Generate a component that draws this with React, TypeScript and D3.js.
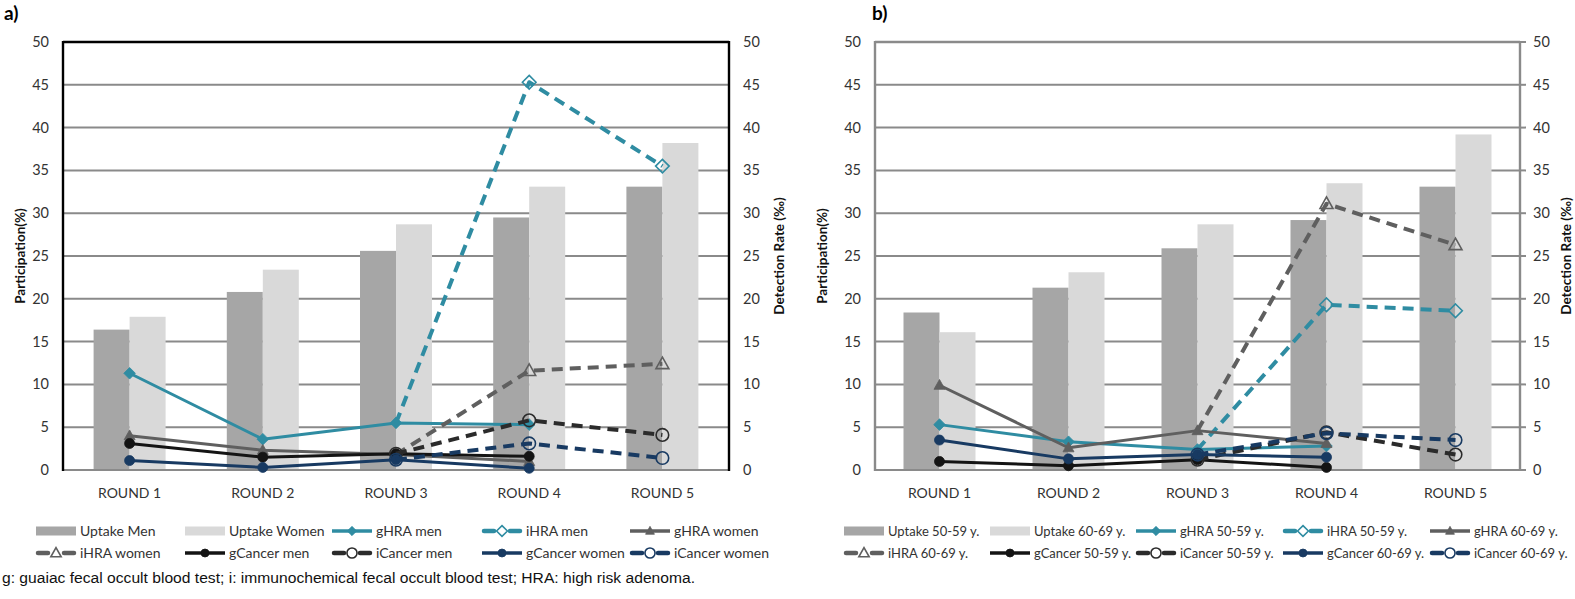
import React from 'react';
import * as d3 from 'd3';

const rounds = ['ROUND 1', 'ROUND 2', 'ROUND 3', 'ROUND 4', 'ROUND 5'];
const yTicks = [0, 5, 10, 15, 20, 25, 30, 35, 40, 45, 50];

// Panel a) – by sex
const uptakeMen = [16.4, 20.8, 25.6, 29.5, 33.1];
const uptakeWomen = [17.9, 23.4, 28.7, 33.1, 38.2];
const gHRAMen = [11.3, 3.6, 5.5, 5.3, null];
const iHRAMen = [null, null, 5.5, 45.3, 35.5];
const gHRAWomen = [4.0, 2.3, 1.8, 1.0, null];
const iHRAWomen = [null, null, 1.8, 11.6, 12.4];
const gCancerMen = [3.1, 1.5, 1.9, 1.6, null];
const iCancerMen = [null, null, 1.9, 5.8, 4.1];
const gCancerWomen = [1.1, 0.3, 1.2, 0.2, null];
const iCancerWomen = [null, null, 1.2, 3.1, 1.4];

// Panel b) – by age
const uptake5059 = [18.4, 21.3, 25.9, 29.2, 33.1];
const uptake6069 = [16.1, 23.1, 28.7, 33.5, 39.2];
const gHRA5059 = [5.3, 3.3, 2.4, 2.8, null];
const iHRA5059 = [null, null, 2.4, 19.3, 18.6];
const gHRA6069 = [9.9, 2.6, 4.6, 3.1, null];
const iHRA6069 = [null, null, 4.6, 31.1, 26.3];
const gCancer5059 = [1.0, 0.5, 1.2, 0.3, null];
const iCancer5059 = [null, null, 1.2, 4.4, 1.8];
const gCancer6069 = [3.5, 1.3, 1.8, 1.5, null];
const iCancer6069 = [null, null, 1.8, 4.3, 3.5];

const footnote =
  'g: guaiac fecal occult blood test; i: immunochemical fecal occult blood test; HRA: high risk adenoma.';

const C = {
  teal: '#2f8ca2',
  gray: '#5f5f5f',
  black: '#141414',
  dark: '#2b2b2b',
  navy: '#183a62',
  barDark: '#a6a6a6',
  barLight: '#d9d9d9',
  grid: '#8a8a8a',
};

type MarkerType = 'diamond' | 'triangle' | 'circle';
type Series = {
  label: string;
  values: (number | null)[];
  color: string;
  dashed: boolean;
  marker: MarkerType;
  filled: boolean;
};

const FONT = 'Lato, Calibri, "Open Sans", sans-serif';

function Marker({ type, x, y, filled, color, legend }: { type: MarkerType; x: number; y: number; filled: boolean; color: string; legend?: boolean }) {
  const r = filled ? (type === 'circle' ? 5 : 5.8) : type === 'circle' ? 6.3 : 6.8;
  const fill = filled ? color : legend ? '#fff' : 'none';
  const sw = filled ? 0.8 : 1.6;
  const rr = legend ? r * 0.8 : r;
  if (type === 'circle') return <circle cx={x} cy={y} r={rr} fill={fill} stroke={color} strokeWidth={sw} />;
  let d = '';
  if (type === 'diamond') d = `M${x},${y - rr}L${x + rr},${y}L${x},${y + rr}L${x - rr},${y}Z`;
  else d = `M${x},${y - rr}L${x + rr * 0.95},${y + rr * 0.7}L${x - rr * 0.95},${y + rr * 0.7}Z`;
  return <path d={d} fill={fill} stroke={color} strokeWidth={sw} strokeLinejoin="miter" />;
}

type PanelCfg = {
  tag: string;
  tagX: number;
  x0: number;
  x1: number;
  frameColor: string;
  leftLabelX: number;
  rightLabelX: number;
  leftTitleX: number;
  rightTitleX: number;
  legendX: number[];
  legendFont: number;
  bars: { label: string; values: number[]; color: string }[];
  series: Series[];
  rightTicksOut: boolean;
};

const y = d3.scaleLinear().domain([0, 50]).range([470, 42]);

function Panel({ cfg }: { cfg: PanelCfg }) {
  const x = d3.scaleBand().domain(rounds).range([cfg.x0, cfg.x1]);
  const bw = x.bandwidth();
  const cx = (r: string) => (x(r) as number) + bw / 2;
  const inner = d3.scaleBand().domain(['0', '1']).range([-36, 36]);
  const line = d3
    .line<{ r: string; v: number | null }>()
    .defined((d) => d.v != null)
    .x((d) => cx(d.r))
    .y((d) => y(d.v as number));

  const legendItems: any[] = [
    ...cfg.bars.map((b) => ({ kind: 'bar', ...b })),
    ...cfg.series.map((s) => ({ kind: 'line', ...s })),
  ];

  const axisW = 2.4;
  return (
    <g>
      <text x={cfg.tagX} y={20} fontFamily={FONT} fontWeight="bold" fontSize={19} fill="#000">
        {cfg.tag}
      </text>
      {yTicks.slice(1, -1).map((t) => (
        <line key={t} x1={cfg.x0} x2={cfg.x1} y1={y(t)} y2={y(t)} stroke={C.grid} strokeWidth={2} />
      ))}
      {cfg.rightTicksOut &&
        yTicks.map((t) => (
          <line key={'rt' + t} x1={cfg.x1} x2={cfg.x1 + 6} y1={y(t)} y2={y(t)} stroke={C.grid} strokeWidth={2} />
        ))}
      {cfg.bars.map((b, bi) =>
        rounds.map((r, i) => (
          <rect
            key={b.label + r}
            x={cx(r) + (inner(String(bi)) as number)}
            width={inner.bandwidth()}
            y={y(b.values[i])}
            height={y(0) - y(b.values[i])}
            fill={b.color}
          />
        ))
      )}
      <line x1={cfg.x0} x2={cfg.x1} y1={y(0)} y2={y(0)} stroke={C.grid} strokeWidth={2.2} />
      <line x1={cfg.x0} x2={cfg.x1} y1={y(50)} y2={y(50)} stroke={cfg.frameColor} strokeWidth={axisW} />
      <line x1={cfg.x0} x2={cfg.x0} y1={y(50) - 1} y2={y(0) + 1} stroke={cfg.frameColor} strokeWidth={axisW} />
      <line x1={cfg.x1} x2={cfg.x1} y1={y(50) - 1} y2={y(0) + 1} stroke={cfg.frameColor} strokeWidth={axisW} />
      {cfg.series.map((s) => {
        const pts = rounds.map((r, i) => ({ r, v: s.values[i] }));
        return (
          <g key={s.label}>
            <path
              d={line(pts) || ''}
              fill="none"
              stroke={s.color}
              strokeWidth={s.dashed ? 4 : 3}
              strokeDasharray={s.dashed ? '11,7' : undefined}
              strokeLinejoin="round"
            />
            {pts.map((p, i) =>
              p.v == null || (s.dashed && i === 2 && s.marker !== 'circle') ? null : (
                <Marker key={i} type={s.marker} x={cx(p.r)} y={y(p.v)} filled={s.filled} color={s.color} />
              )
            )}
          </g>
        );
      })}
      {yTicks.map((t) => (
        <g key={'tl' + t}>
          <text x={cfg.leftLabelX} y={y(t)} dy="0.35em" textAnchor="end" fontFamily={FONT} fontSize={14.5} fill="#333">
            {t}
          </text>
          <text x={cfg.rightLabelX} y={y(t)} dy="0.35em" textAnchor="start" fontFamily={FONT} fontSize={14.5} fill="#333">
            {t}
          </text>
        </g>
      ))}
      {rounds.map((r) => (
        <text key={r} x={cx(r)} y={498} textAnchor="middle" fontFamily={FONT} fontSize={14} fill="#333">
          {r}
        </text>
      ))}
      <text
        transform={`translate(${cfg.leftTitleX},256) rotate(-90)`}
        textAnchor="middle"
        dy="0.35em"
        fontFamily={FONT}
        fontWeight="bold"
        fontSize={13.5}
        fill="#111"
      >
        Participation(%)
      </text>
      <text
        transform={`translate(${cfg.rightTitleX},256) rotate(-90)`}
        textAnchor="middle"
        dy="0.35em"
        fontFamily={FONT}
        fontWeight="bold"
        fontSize={13.5}
        fill="#111"
      >
        Detection Rate  (‰)
      </text>
      {legendItems.map((it, i) => {
        const col = i % 5;
        const row = Math.floor(i / 5);
        const lx = cfg.legendX[col];
        const ly = row === 0 ? 531 : 553;
        return (
          <g key={'lg' + i}>
            {it.kind === 'bar' ? (
              <rect x={lx} y={ly - 4.5} width={40} height={9} fill={it.color} />
            ) : it.dashed ? (
              <g>
                <line x1={lx + 2} x2={lx + 12} y1={ly} y2={ly} stroke={it.color} strokeWidth={4.5} strokeLinecap="round" />
                <line x1={lx + 28} x2={lx + 38} y1={ly} y2={ly} stroke={it.color} strokeWidth={4.5} strokeLinecap="round" />
                <Marker type={it.marker} x={lx + 20} y={ly} filled={false} color={it.color} legend />
              </g>
            ) : (
              <g>
                <line x1={lx} x2={lx + 40} y1={ly} y2={ly} stroke={it.color} strokeWidth={3.5} />
                <Marker type={it.marker} x={lx + 20} y={ly} filled={true} color={it.color} legend />
              </g>
            )}
            <text x={lx + 44} y={ly} dy="0.35em" fontFamily={FONT} fontSize={cfg.legendFont} fill="#333">
              {it.label}
            </text>
          </g>
        );
      })}
    </g>
  );
}

const panelA: PanelCfg = {
  tag: 'a)',
  tagX: 4,
  x0: 63,
  x1: 729,
  frameColor: '#000',
  leftLabelX: 49,
  rightLabelX: 743,
  leftTitleX: 20,
  rightTitleX: 779,
  legendX: [36, 185, 332, 482, 630],
  legendFont: 14,
  rightTicksOut: false,
  bars: [
    { label: 'Uptake Men', values: uptakeMen, color: C.barDark },
    { label: 'Uptake Women', values: uptakeWomen, color: C.barLight },
  ],
  series: [
    { label: 'gHRA men', values: gHRAMen, color: C.teal, dashed: false, marker: 'diamond', filled: true },
    { label: 'iHRA men', values: iHRAMen, color: C.teal, dashed: true, marker: 'diamond', filled: false },
    { label: 'gHRA women', values: gHRAWomen, color: C.gray, dashed: false, marker: 'triangle', filled: true },
    { label: 'iHRA women', values: iHRAWomen, color: C.gray, dashed: true, marker: 'triangle', filled: false },
    { label: 'gCancer men', values: gCancerMen, color: C.black, dashed: false, marker: 'circle', filled: true },
    { label: 'iCancer men', values: iCancerMen, color: C.dark, dashed: true, marker: 'circle', filled: false },
    { label: 'gCancer women', values: gCancerWomen, color: C.navy, dashed: false, marker: 'circle', filled: true },
    { label: 'iCancer women', values: iCancerWomen, color: C.navy, dashed: true, marker: 'circle', filled: false },
  ],
};

const panelB: PanelCfg = {
  tag: 'b)',
  tagX: 872,
  x0: 875,
  x1: 1520,
  frameColor: C.grid,
  leftLabelX: 861,
  rightLabelX: 1533,
  leftTitleX: 822,
  rightTitleX: 1566,
  legendX: [844, 990, 1136, 1283, 1430],
  legendFont: 13,
  rightTicksOut: true,
  bars: [
    { label: 'Uptake 50-59 y.', values: uptake5059, color: C.barDark },
    { label: 'Uptake 60-69 y.', values: uptake6069, color: C.barLight },
  ],
  series: [
    { label: 'gHRA 50-59 y.', values: gHRA5059, color: C.teal, dashed: false, marker: 'diamond', filled: true },
    { label: 'iHRA 50-59 y.', values: iHRA5059, color: C.teal, dashed: true, marker: 'diamond', filled: false },
    { label: 'gHRA 60-69 y.', values: gHRA6069, color: C.gray, dashed: false, marker: 'triangle', filled: true },
    { label: 'iHRA 60-69 y.', values: iHRA6069, color: C.gray, dashed: true, marker: 'triangle', filled: false },
    { label: 'gCancer 50-59 y.', values: gCancer5059, color: C.black, dashed: false, marker: 'circle', filled: true },
    { label: 'iCancer 50-59 y.', values: iCancer5059, color: C.dark, dashed: true, marker: 'circle', filled: false },
    { label: 'gCancer 60-69 y.', values: gCancer6069, color: C.navy, dashed: false, marker: 'circle', filled: true },
    { label: 'iCancer 60-69 y.', values: iCancer6069, color: C.navy, dashed: true, marker: 'circle', filled: false },
  ],
};

export default function App() {
  return (
    <svg
      width={1575}
      height={599}
      viewBox="0 0 1575 599"
      style={{ position: 'absolute', left: 0, top: 0, background: '#fff' }}
    >
      <rect x={0} y={0} width={1575} height={599} fill="#fff" />
      <Panel cfg={panelA} />
      <Panel cfg={panelB} />
      <text x={2} y={583} fontFamily='"Liberation Sans", Arial, sans-serif' fontSize={14} fill="#111" textLength={693} lengthAdjust="spacingAndGlyphs">
        {footnote}
      </text>
    </svg>
  );
}
